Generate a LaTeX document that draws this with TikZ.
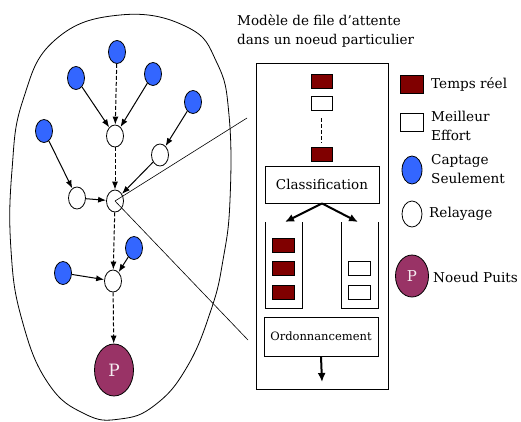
\documentclass[tikz,border=0pt]{standalone}
\usepackage{fontspec}
\setmainfont{DejaVu Serif}
\usetikzlibrary{arrows.meta,shapes.geometric}
\definecolor{capt}{RGB}{51,102,255}
\definecolor{treel}{RGB}{128,0,0}
\definecolor{puits}{RGB}{153,51,102}
\tikzset{
  capt/.style={ellipse,draw=black,line width=0.8pt,fill=capt,minimum width=17pt,minimum height=23pt,inner sep=0pt},
  rel/.style={ellipse,draw=black,line width=0.8pt,fill=white,minimum width=17pt,minimum height=22pt,inner sep=0pt},
  sink/.style={ellipse,draw=black,line width=0.8pt,fill=puits,minimum width=39pt,minimum height=52pt,inner sep=0pt,text=white!90!puits,font=\fontsize{17}{17}\selectfont},
  pk/.style={draw=black,line width=0.7pt,minimum width=21pt,minimum height=14pt,inner sep=0pt},
  lgbox/.style={draw=black,line width=0.7pt,minimum width=23pt,minimum height=18pt,inner sep=0pt},
  lgtxt/.style={anchor=west,align=left,inner sep=0pt,font=\fontsize{13.6}{18.5}\selectfont},
  ln/.style={line width=1pt,-{Latex[length=8pt,width=6pt]}},
  dln/.style={ln,dash pattern=on 4pt off 2pt},
  thick arrow/.style={line width=2pt,-{Latex[length=9pt,width=8pt]}}
}
\begin{document}
\begin{tikzpicture}[x=1pt,y=-1pt]
\useasboundingbox (0,0) rectangle (521,421);
% network region
\draw[line width=0.8pt] plot[smooth cycle,tension=0.75] coordinates
  {(120,15) (187,27) (217,63) (229,115) (230,200) (223,260) (211,310) (187,367)
   (155,405) (120,419) (85,414) (48,383) (22,320) (11,250) (12,170) (23,100) (55,40)};
% sensor-only nodes
\node[capt] (b1) at (117,52) {};
\node[capt] (b2) at (76,78) {};
\node[capt] (b3) at (153,74) {};
\node[capt] (b4) at (193,102) {};
\node[capt] (b5) at (44,131) {};
\node[capt] (b6) at (134,248) {};
\node[capt] (b7) at (63,273) {};
% relay nodes
\node[rel] (r1) at (115,136) {};
\node[rel] (r2) at (160,155) {};
\node[rel] (r3) at (77,198) {};
\node[rel] (rc) at (115,201) {};
\node[rel] (r4) at (113,281) {};
% sink
\node[sink] (p) at (114,370) {P};
% links
\draw[dln] (b1) -- (r1);
\draw[ln] (b2) -- (r1);
\draw[ln] (b3) -- (r1);
\draw[ln] (b4) -- (r2);
\draw[dln] (r1) -- (rc);
\draw[ln] (r2) -- (rc);
\draw[ln] (b5) -- (r3);
\draw[ln] (r3) -- (rc);
\draw[dln] (rc) -- (r4);
\draw[ln] (b6) -- (r4);
\draw[ln] (b7) -- (r4);
\draw[dln] (r4) -- (p);
% zoom lines towards the queue model
\coordinate (zt) at (247,118);
\coordinate (zb) at (248,340);
\draw[line width=0.6pt] (rc.center) -- (zt);
\draw[line width=0.6pt] (rc.center) -- (zb);
% queue model
\node[anchor=north west,align=left,inner sep=0pt,font=\fontsize{13.5}{19}\selectfont] (title) at (237,15)
  {Modèle de file d'attente\\dans un noeud particulier};
\node[draw=black,line width=0.8pt,minimum width=132pt,minimum height=326pt,inner sep=0pt] (frame) at (322,226) {};
\node[pk,fill=treel] (q1) at (321.5,81.5) {};
\node[pk,fill=white] (q2) at (321.5,103) {};
\node[pk,fill=treel] (q3) at (321.5,154) {};
\draw[line width=1pt,dash pattern=on 4pt off 2pt] (q2.south) ++(0,8) coordinate (d1) -- ++(0,25) coordinate (d2);
\node[draw=black,line width=0.8pt,minimum width=114pt,minimum height=37pt,inner sep=0pt,font=\fontsize{13.5}{15}\selectfont] (cls) at (322,184.5) {Classification};
\coordinate (lq) at (285,222);
\coordinate (rq) at (358,222);
\draw[thick arrow] (cls.south) -- (lq);
\draw[thick arrow] (cls.south) -- (rq);
\draw[line width=0.8pt] (265,222) -- (265,308) -- (302,308) -- (302,222);
\draw[line width=0.8pt] (341,222) -- (341,308) -- (378,308) -- (378,222);
\node[pk,fill=treel,minimum width=22pt] (a1) at (283,245) {};
\node[pk,fill=treel,minimum width=22pt] (a2) at (283,268.5) {};
\node[pk,fill=treel,minimum width=22pt] (a3) at (283,292.5) {};
\node[pk,fill=white,minimum width=22pt] (w1) at (359,268.5) {};
\node[pk,fill=white,minimum width=22pt] (w2) at (359,292.5) {};
\node[draw=black,line width=0.8pt,minimum width=114pt,minimum height=39pt,inner sep=0pt,font=\fontsize{11.5}{13}\selectfont] (ord) at (321,336.5) {Ordonnancement};
\coordinate (out) at (322,382);
\draw[thick arrow] (ord.south) -- (out);
% legend
\node[lgbox,fill=treel] (l1) at (411.5,84) {};
\node[lgtxt] (t1) at (431,84) {Temps réel};
\node[lgbox,fill=white] (l2) at (411.5,122) {};
\node[lgtxt] (t2) at (431,126) {Meilleur\\Effort};
\node[capt,minimum width=20pt,minimum height=28pt] (l3) at (412,170) {};
\node[lgtxt] (t3) at (431,169) {Captage\\Seulement};
\node[rel,minimum width=20pt,minimum height=26pt] (l4) at (412,214) {};
\node[lgtxt] (t4) at (429,214) {Relayage};
\node[sink,minimum width=33pt,minimum height=42pt,font=\fontsize{15}{15}\selectfont] (l5) at (412,276) {P};
\node[lgtxt] (t5) at (433,277) {Noeud Puits};
\end{tikzpicture}
\end{document}
